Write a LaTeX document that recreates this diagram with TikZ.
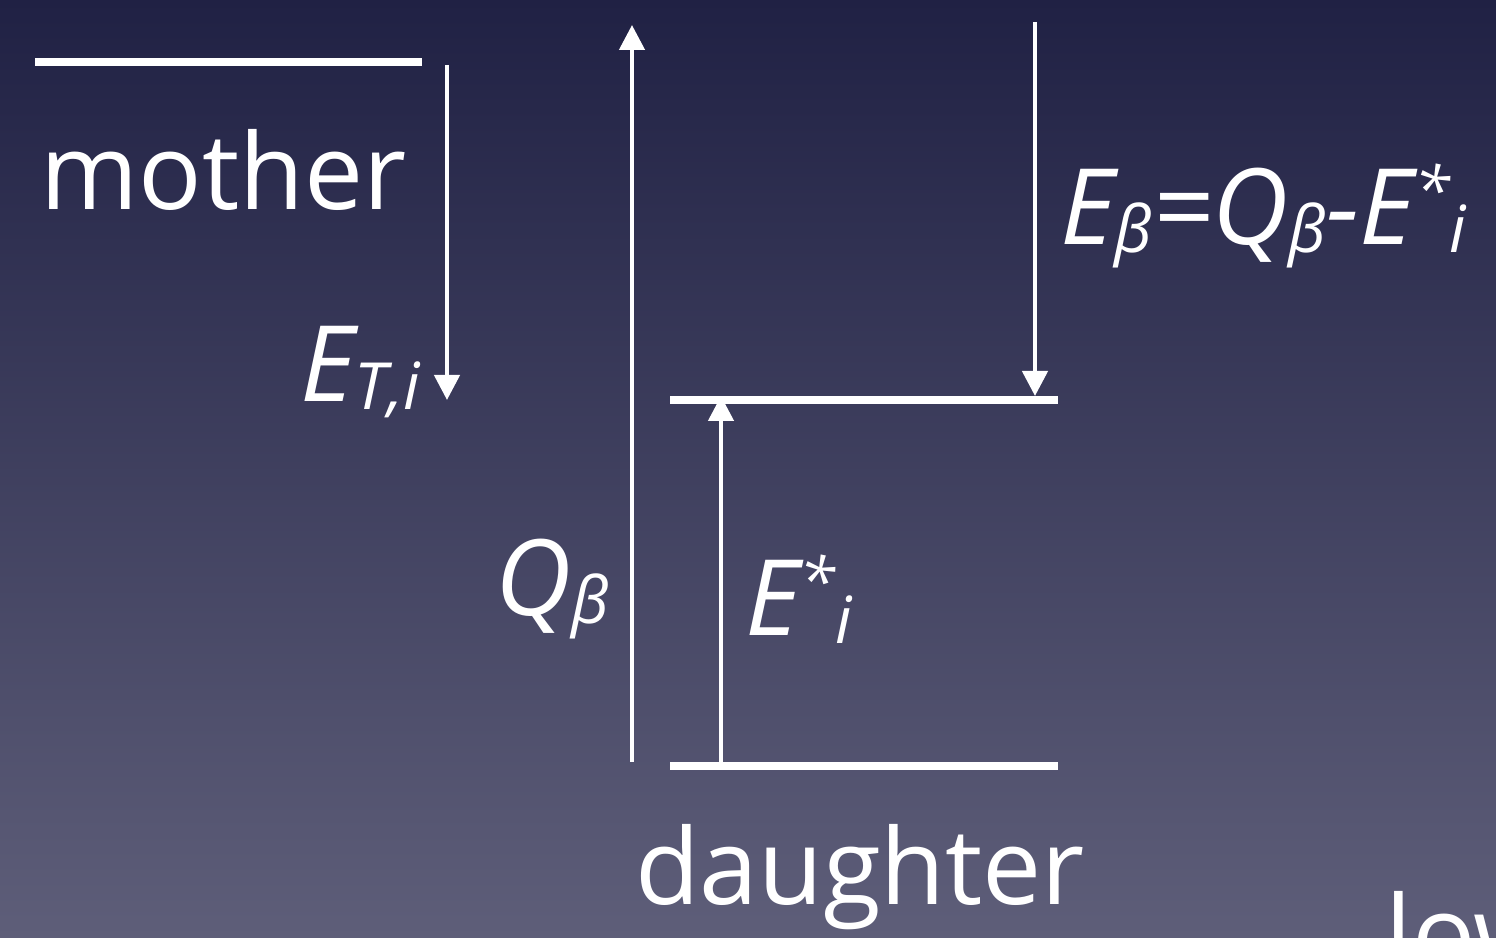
\documentclass[tikz,border=0pt]{standalone}
\usepackage{fontspec}
\setmainfont{Open Sans}
\usepackage{tikz}
\usetikzlibrary{arrows.meta, positioning}
\definecolor{bgtop}{RGB}{32,33,68}
\definecolor{bgbot}{RGB}{94,94,121}
\newcommand{\lowtxt}[1]{\raisebox{-0.07em}{\fontsize{37}{40}\selectfont #1}}
\newcommand{\hightxt}[1]{\raisebox{0.3em}{\fontsize{37}{40}\selectfont #1}}
\tikzset{
  level/.style={draw=white, line width=0.16cm},
  trans/.style={draw=white, line width=0.09cm, -{Triangle[length=0.5cm, width=0.5cm]}},
  big/.style={text=white, inner sep=0pt, font=\fontsize{60}{66}\selectfont},
  bigit/.style={big, font=\fontsize{60}{66}\selectfont\itshape}
}
\begin{document}
\begin{tikzpicture}
  \shade[top color=bgtop, bottom color=bgbot] (0,0) rectangle (29.92,18.76);
  \useasboundingbox (0,0) rectangle (29.92,18.76);
  \clip (0,0) rectangle (29.92,18.76);

  % levels
  \coordinate (m1) at (0.70,17.52);
  \coordinate (m2) at (8.44,17.52);
  \coordinate (x1) at (13.40,10.76);
  \coordinate (x2) at (21.16,10.76);
  \coordinate (g1) at (13.40,3.44);
  \coordinate (g2) at (21.16,3.44);
  \draw[level] (m1) -- (m2);
  \draw[level] (x1) -- (x2);
  \draw[level] (g1) -- (g2);

  % transitions
  \coordinate (ta) at (8.94,17.46);
  \coordinate (tb) at (8.94,10.76);
  \coordinate (qa) at (12.64,3.52);
  \coordinate (qb) at (12.64,18.26);
  \coordinate (ea) at (14.42,3.44);
  \coordinate (eb) at (14.42,10.84);
  \coordinate (ba) at (20.70,18.32);
  \coordinate (bb) at (20.70,10.84);
  \draw[trans] (ta) -- (tb);
  \draw[trans] (qa) -- (qb);
  \draw[trans] (ea) -- (eb);
  \draw[trans] (ba) -- (bb);

  % labels
  \node[big, anchor=base west] (mother) at (0.80,14.56) {mother};
  \node[big, anchor=base] (daughter) at (17.20,0.66) {daughter};
  \node[big, anchor=base west] (low) at (27.70,-0.68) {low};
  \node[bigit, anchor=base east] (etlab) at (8.40,10.72) {E\lowtxt{T,i}};
  \node[bigit, anchor=base east] (qlab) at (12.20,6.44) {Q\lowtxt{β}};
  \node[bigit, anchor=base west] (exlab) at (14.90,6.04) {E\hightxt{*}\lowtxt{i}};
  \node[bigit, anchor=base west] (eblab) at (21.20,13.86) {E\lowtxt{β}=Q\lowtxt{β}-E\hightxt{*}\lowtxt{i}};
\end{tikzpicture}
\end{document}
